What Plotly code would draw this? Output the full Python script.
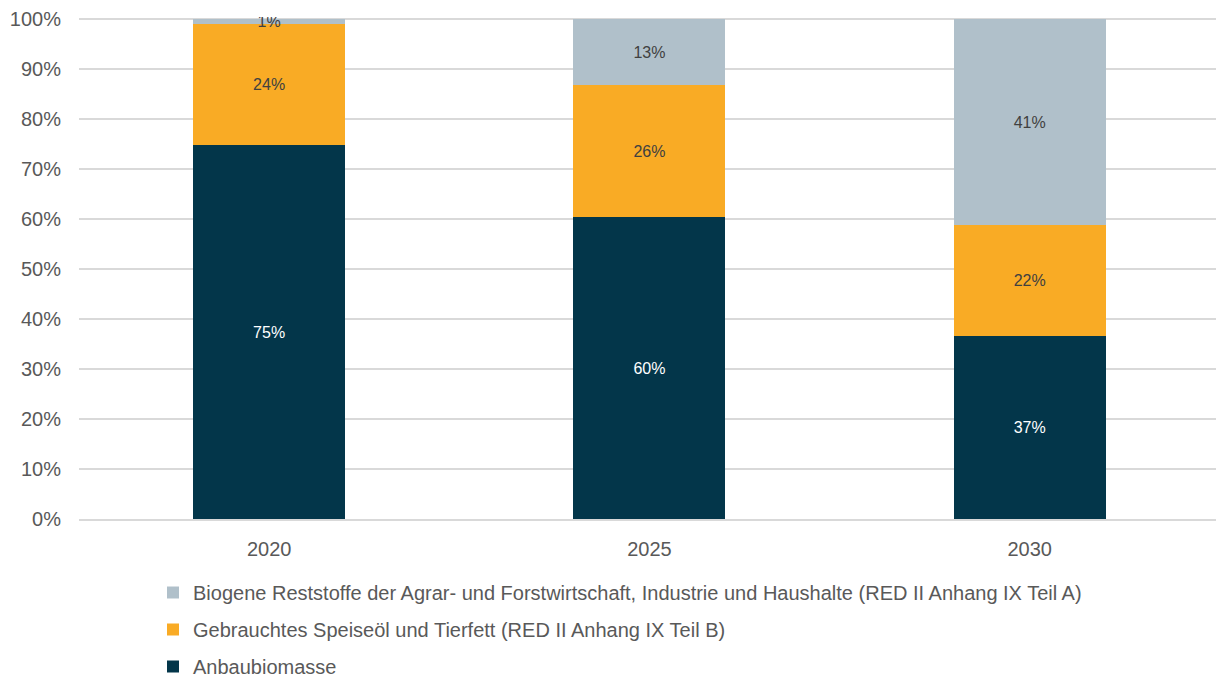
import plotly.graph_objects as go

years = ["2020", "2025", "2030"]
anbau = [74.8, 60.4, 36.7]
speiseoel = [24.3, 26.4, 22.1]
reststoffe = [0.9, 13.2, 41.2]
y_ticks = [0, 10, 20, 30, 40, 50, 60, 70, 80, 90, 100]
y_tick_labels = [f"{v}%" for v in y_ticks]

names = [
    "Anbaubiomasse",
    "Gebrauchtes Speiseöl und Tierfett (RED II Anhang IX Teil B)",
    "Biogene Reststoffe der Agrar- und Forstwirtschaft, Industrie und Haushalte (RED II Anhang IX Teil A)",
]
colors = ["#03364A", "#F9AB25", "#B0C0CA"]
text_colors = ["#FFFFFF", "#404040", "#404040"]
ranks = [3, 2, 1]
groups = ["c", "b", "a"]
series = [anbau, speiseoel, reststoffe]

FONT = "Liberation Sans, Arial, sans-serif"

fig = go.Figure()
for nm, vals, col, tc, rk, gp in zip(names, series, colors, text_colors, ranks, groups):
    fig.add_trace(go.Bar(
        x=years, y=vals, name=nm,
        marker=dict(color=col, line=dict(width=0)),
        texttemplate="%{y:.0f}%",
        textposition="inside",
        insidetextanchor="middle",
        textangle=0,
        constraintext="none",
        textfont=dict(color=tc, size=16, family=FONT),
        legendrank=rk,
        legendgroup=gp,
        hoverinfo="skip",
    ))

# figure slightly taller than the window; the extra strip below is empty legend padding
fig.update_layout(
    barmode="stack",
    bargap=0.6,
    width=1216, height=686,
    margin=dict(l=79, r=0, t=17, b=167),
    paper_bgcolor="white", plot_bgcolor="white",
    font=dict(family=FONT, color="#595959", size=20),
    showlegend=True,
    legend=dict(
        orientation="v",
        traceorder="grouped",
        tracegroupgap=8,
        x=(153 - 79) / 1137, xanchor="left",
        y=(519 - 686) / 502, yanchor="bottom",
        font=dict(size=20, color="#595959", family=FONT),
        bgcolor="rgba(0,0,0,0)",
    ),
    xaxis=dict(
        range=[-0.5, 2.49],
        showgrid=False,
        showline=True, linecolor="#D9D9D9", linewidth=2,
        ticks="", tickfont=dict(size=20, color="#595959"),
        ticklabelstandoff=11,
    ),
    yaxis=dict(
        range=[0, 100.4],
        tickvals=y_ticks,
        ticktext=y_tick_labels,
        showgrid=True, gridcolor="#D9D9D9", gridwidth=2,
        zeroline=False,
        ticks="", tickfont=dict(size=20, color="#595959"),
        ticklabelstandoff=17,
    ),
)

fig.write_html(
    "out.html",
    config={"displayModeBar": False},
    post_script="document.body.style.margin='0';document.body.style.overflow='hidden';",
)
